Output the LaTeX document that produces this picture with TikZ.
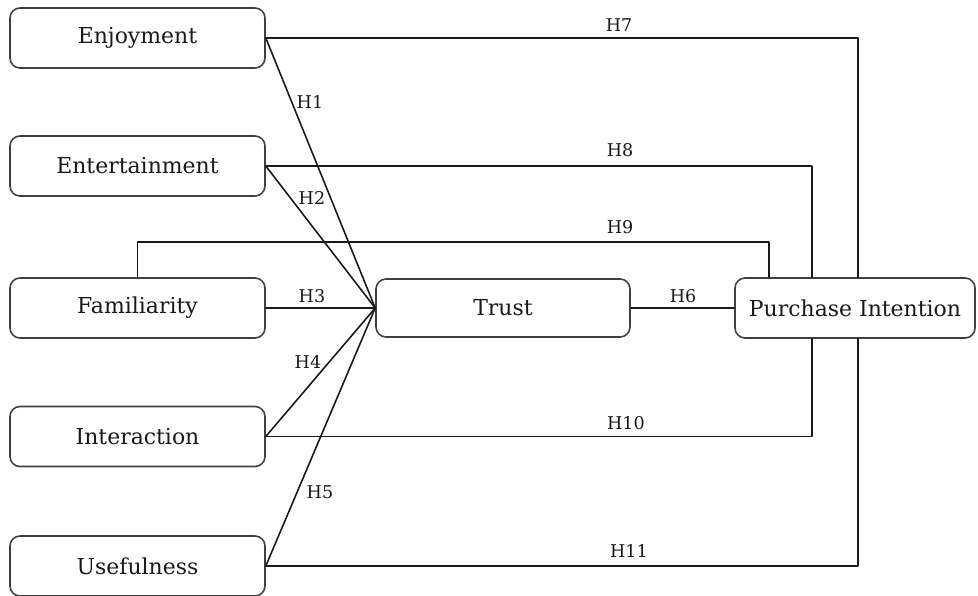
\documentclass[tikz,border=0pt]{standalone}
\usepackage{fontspec}
\setmainfont{DejaVu Serif}

\begin{document}
\begin{tikzpicture}[line join=round, line cap=round, font=\fontsize{12.5}{15}\selectfont,
	box/.style={draw=black!75, line width=0.9pt, rounded corners=0.2cm, minimum height=1.2cm, minimum width=5.1cm, text=black!90, inner sep=0pt},
	hyp/.style={font=\fontsize{10}{12}\selectfont, text=black!90, inner sep=1pt},
	link/.style={draw=black!90, line width=0.9pt}]
	\useasboundingbox (0,0) rectangle (19.56,-11.92);
	% constructs
	\node[box] (enj) at (2.75,-0.76) {Enjoyment};
	\node[box] (ent) at (2.75,-3.32) {Entertainment};
	\node[box] (fam) at (2.75,-6.16) {Familiarity};
	\node[box] (int) at (2.75,-8.73) {Interaction};
	\node[box] (use) at (2.75,-11.32) {Usefulness};
	\node[box, minimum width=5.08cm, minimum height=1.16cm] (tru) at (10.06,-6.16) {Trust};
	\node[box, minimum width=4.8cm] (pur) at (17.1,-6.16) {Purchase Intention};
	% paths to trust
	\foreach \src in {enj,ent,fam,int,use}
		\draw[link] (\src.east) -- (tru.west);
	\draw[link] (tru.east) -- (pur.west);
	% direct paths to purchase intention
	\draw[link] (enj.east) -| ([xshift=0.06cm]pur.north);
	\draw[link] (ent.east) -| ([xshift=-0.86cm]pur.north);
	\draw[link] (fam.north) -- ++(0,0.7) -| ([xshift=-1.72cm]pur.north);
	\draw[link] (int.east) -| ([xshift=-0.86cm]pur.south);
	\draw[link] (use.east) -| ([xshift=0.06cm]pur.south);
	% hypotheses
	\node[hyp] (h1) at (6.2,-2.04) {H1};
	\node[hyp] (h2) at (6.24,-3.96) {H2};
	\node[hyp] (h3) at (6.24,-5.92) {H3};
	\node[hyp] (h4) at (6.16,-7.24) {H4};
	\node[hyp] (h5) at (6.4,-9.84) {H5};
	\node[hyp] (h6) at (13.66,-5.92) {H6};
	\node[hyp] (h7) at (12.38,-0.5) {H7};
	\node[hyp] (h8) at (12.4,-3.0) {H8};
	\node[hyp] (h9) at (12.4,-4.54) {H9};
	\node[hyp] (h10) at (12.52,-8.46) {H10};
	\node[hyp] (h11) at (12.58,-11.02) {H11};
\end{tikzpicture}
\end{document}
